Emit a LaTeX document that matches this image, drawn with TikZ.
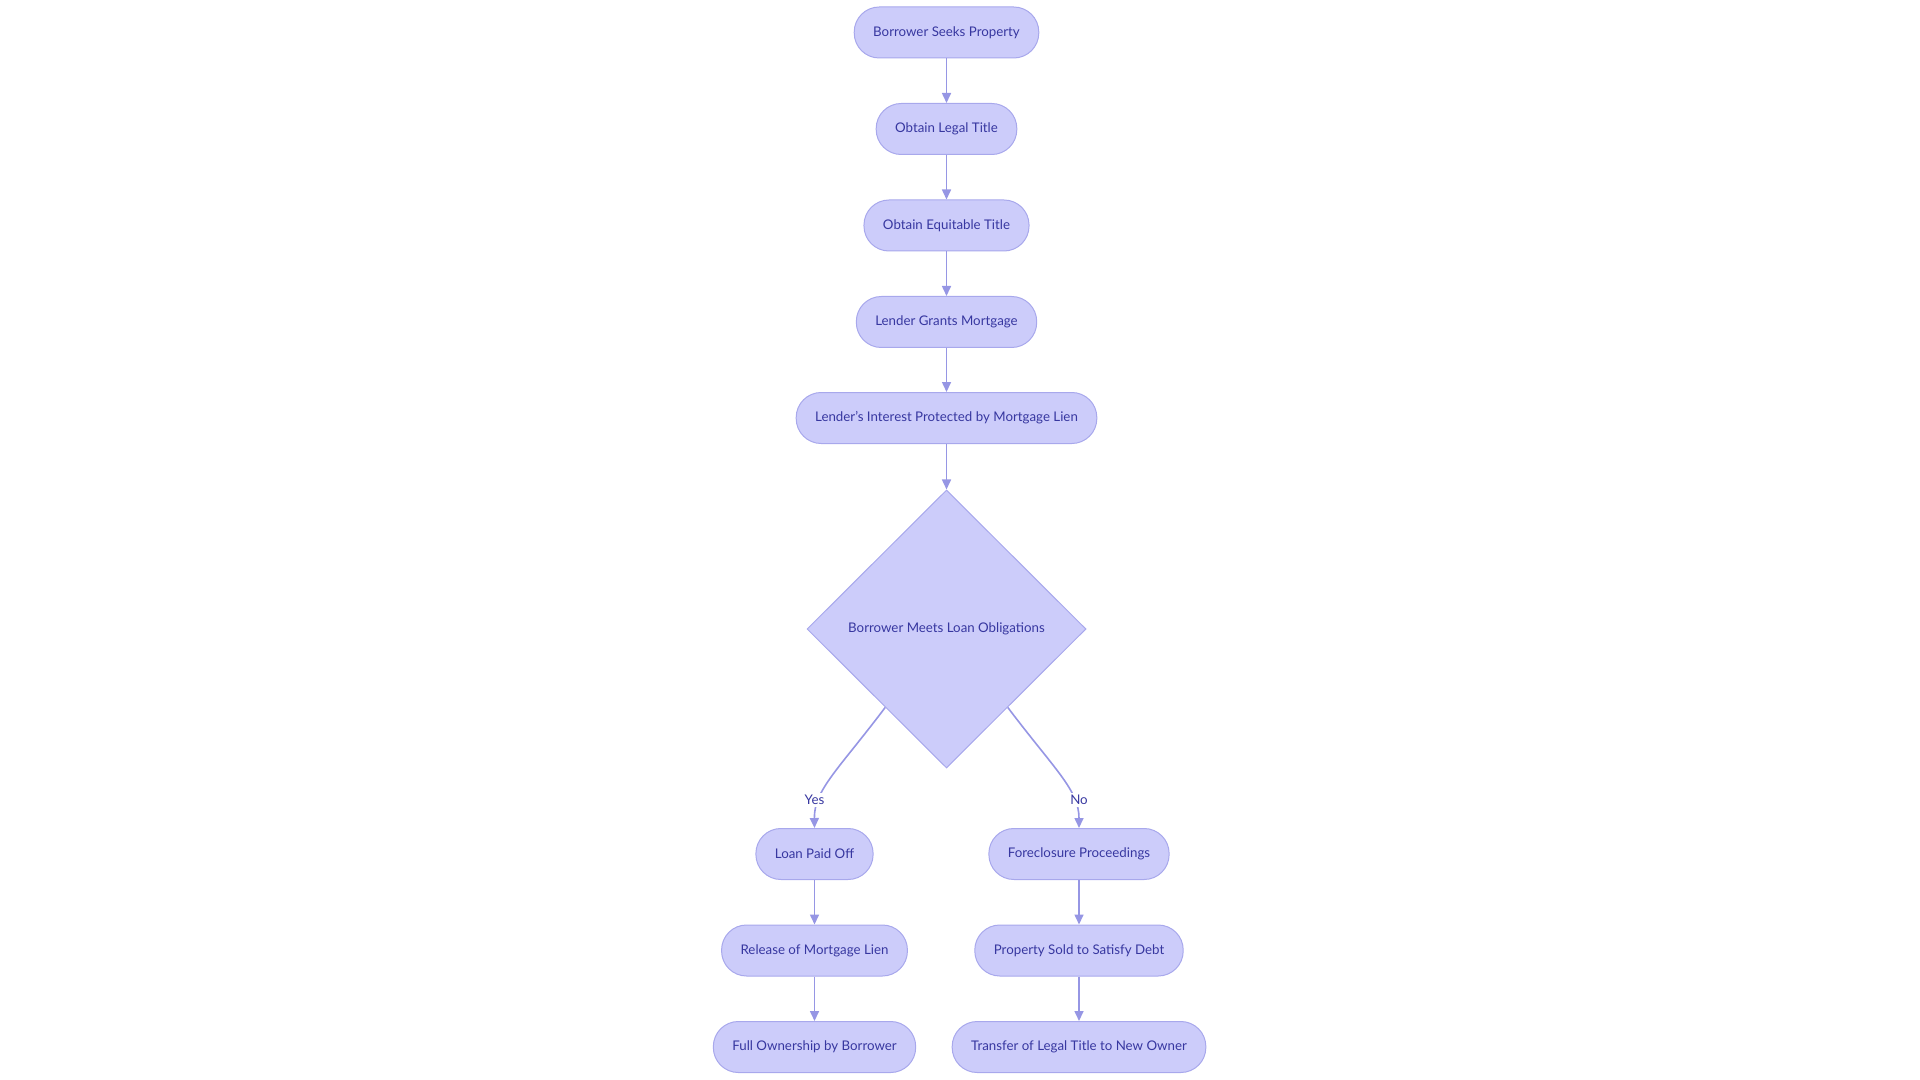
\documentclass[tikz,border=0pt]{standalone}
\usepackage{fontspec}
\setmainfont{Lato}
\usetikzlibrary{shapes.geometric,arrows.meta}
\definecolor{boxfill}{RGB}{204,204,250}
\definecolor{boxline}{RGB}{168,168,236}
\definecolor{flowline}{RGB}{150,150,228}
\definecolor{boxtext}{RGB}{55,55,160}
\begin{document}
\begin{tikzpicture}[x=0.5pt,y=-0.5pt,
        stage/.style={draw=boxline,line width=0.5pt,fill=boxfill,text=boxtext,rounded corners=12.5pt,
            minimum height=25.5pt,inner xsep=9.5pt,font=\fontsize{6.65}{8}\selectfont},
        check/.style={diamond,draw=boxline,line width=0.5pt,fill=boxfill,text=boxtext,
            minimum width=139.5pt,minimum height=139pt,inner sep=0pt,font=\fontsize{6.65}{8}\selectfont},
        flow/.style={draw=flowline,line width=0.8pt,-{Triangle[width=4.5pt,length=5pt]}},
        choice/.style={fill=white,text=boxtext,inner sep=1pt,font=\fontsize{6.65}{8}\selectfont}]
        \useasboundingbox (0,0) rectangle (1920,1080);
        % main column
        \node[stage] (seek) at (946.5,32.5) {Borrower Seeks Property};
        \node[stage] (legal) at (946.5,129) {Obtain Legal Title};
        \node[stage] (equit) at (946.5,225.5) {Obtain Equitable Title};
        \node[stage] (grant) at (946.5,322) {Lender Grants Mortgage};
        \node[stage] (lien) at (946.5,418) {Lender's Interest Protected by Mortgage Lien};
        \node[check] (meets) at (946.5,629) {Borrower Meets Loan Obligations};
        % yes branch
        \node[stage] (paid) at (814.5,854) {Loan Paid Off};
        \node[stage] (release) at (814.5,950.5) {Release of Mortgage Lien};
        \node[stage] (owner) at (814.5,1047) {Full Ownership by Borrower};
        % no branch
        \node[stage] (forecl) at (1079,854) {Foreclosure Proceedings};
        \node[stage] (sold) at (1079,950.5) {Property Sold to Satisfy Debt};
        \node[stage] (transfer) at (1079,1047) {Transfer of Legal Title to New Owner};
        \draw[flow] (seek) -- (legal);
        \draw[flow] (legal) -- (equit);
        \draw[flow] (equit) -- (grant);
        \draw[flow] (grant) -- (lien);
        \draw[flow] (lien) -- (meets);
        \draw[flow] (meets.-128) .. controls (838,770) and (814,790) .. (paid.north);
        \draw[flow] (meets.-52) .. controls (1055,770) and (1079,790) .. (forecl.north);
        \node[choice] (yes) at (814.5,800) {Yes};
        \node[choice] (no) at (1079,800) {No};
        \draw[flow] (paid) -- (release);
        \draw[flow] (release) -- (owner);
        \draw[flow] (forecl) -- (sold);
        \draw[flow] (sold) -- (transfer);
    \end{tikzpicture}
\end{document}
